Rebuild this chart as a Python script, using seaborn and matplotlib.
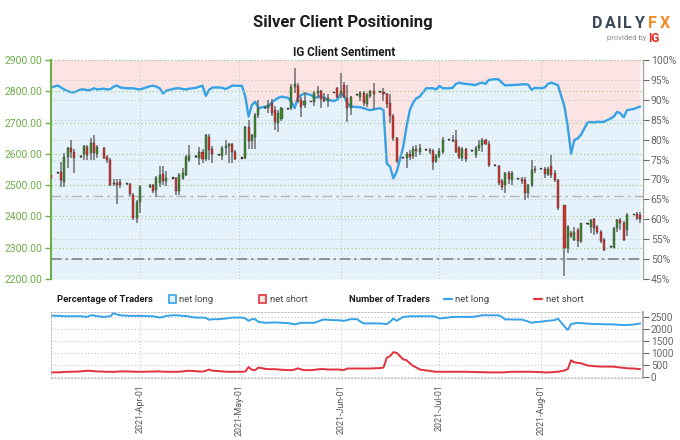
import matplotlib
matplotlib.use("Agg")
import matplotlib.pyplot as plt
import matplotlib.dates as mdates
from matplotlib.patches import Rectangle
from matplotlib.lines import Line2D
import numpy as np
import pandas as pd
import seaborn as sns

sns.set_theme(style="white")
plt.rcParams["font.family"] = ["Roboto", "DejaVu Sans"]

# ---------------- data ----------------
# daily candles (IG shows a short Sunday session, no Saturdays, no Good Friday)
all_days = pd.date_range("2021-03-05", "2021-08-31", freq="D")
dates = all_days[(all_days.dayofweek != 5) & (all_days != pd.Timestamp("2021-04-02"))]

opens = [2533,
         2540, 2543, 2511, 2591, 2618, 2607,
         2590, 2600, 2621, 2602, 2634, 2600,
         2618, 2591, 2580, 2503, 2508, 2510,
         2505, 2503, 2469, 2394, 2447,
         2495, 2501, 2485, 2506, 2535, 2514,
         2522, 2522, 2480, 2522, 2533, 2580,
         2593, 2586, 2607, 2582, 2655, 2614,
         2598, 2592, 2620, 2625, 2630, 2605,
         2585, 2587, 2685, 2640, 2655, 2725,
         2745, 2748, 2762, 2740, 2700, 2710,
         2743, 2745, 2815, 2818, 2772, 2755,
         2768, 2767, 2793, 2800, 2778, 2770,
         2795, 2810, 2790, 2820, 2778, 2745,
         2790, 2783, 2795, 2760, 2785, 2800,
         2797, 2797, 2790, 2762, 2722, 2650,
         2586, 2588, 2600, 2592, 2615, 2605,
         2615, 2612, 2610, 2578, 2592, 2605,
         2645, 2645, 2645, 2618, 2588, 2615,
         2610, 2595, 2620, 2628, 2645, 2632,
         2565, 2560, 2512, 2500, 2540, 2515,
         2522, 2520, 2517, 2474, 2500, 2553,
         2550, 2552, 2535, 2560, 2538, 2517,
         2437, 2298, 2346, 2325, 2357, 2320,
         2376, 2367, 2391, 2367, 2351, 2325,
         2302, 2298, 2362, 2389, 2378, 2357,
         2405, 2408, 2405]
highs = [2545,
         2542, 2575, 2602, 2623, 2645, 2617,
         2595, 2628, 2628, 2650, 2660, 2628,
         2621, 2596, 2586, 2520, 2520, 2520,
         2507, 2508, 2474, 2453, 2500,
         2503, 2505, 2530, 2560, 2560, 2545,
         2525, 2527, 2538, 2555, 2596, 2628,
         2595, 2623, 2615, 2663, 2665, 2625,
         2600, 2625, 2645, 2634, 2634, 2612,
         2590, 2690, 2708, 2665, 2730, 2772,
         2750, 2772, 2775, 2752, 2740, 2750,
         2747, 2822, 2873, 2828, 2783, 2798,
         2770, 2800, 2818, 2805, 2795, 2790,
         2797, 2815, 2857, 2830, 2820, 2785,
         2792, 2800, 2800, 2795, 2805, 2825,
         2799, 2812, 2795, 2790, 2728, 2655,
         2590, 2605, 2612, 2625, 2628, 2630,
         2617, 2618, 2615, 2600, 2620, 2655,
         2647, 2660, 2676, 2625, 2622, 2620,
         2612, 2625, 2645, 2650, 2648, 2640,
         2567, 2565, 2520, 2543, 2545, 2545,
         2524, 2525, 2527, 2505, 2580, 2560,
         2552, 2559, 2558, 2596, 2548, 2520,
         2437, 2373, 2355, 2367, 2362, 2380,
         2378, 2391, 2394, 2372, 2357, 2330,
         2304, 2367, 2391, 2394, 2385, 2410,
         2407, 2415, 2415]
lows = [2478,
        2535, 2495, 2495, 2554, 2586, 2538,
        2586, 2580, 2580, 2580, 2580, 2586,
        2583, 2570, 2497, 2498, 2440, 2490,
        2500, 2465, 2389, 2378, 2410,
        2492, 2475, 2462, 2495, 2500, 2498,
        2519, 2469, 2469, 2517, 2530, 2575,
        2588, 2565, 2570, 2578, 2580, 2570,
        2594, 2581, 2597, 2570, 2572, 2580,
        2582, 2585, 2615, 2615, 2615, 2715,
        2742, 2730, 2720, 2676, 2671, 2705,
        2741, 2740, 2795, 2762, 2719, 2745,
        2765, 2752, 2780, 2745, 2765, 2750,
        2793, 2780, 2780, 2780, 2703, 2724,
        2786, 2770, 2752, 2750, 2780, 2740,
        2795, 2770, 2745, 2700, 2640, 2572,
        2583, 2555, 2580, 2585, 2590, 2595,
        2610, 2600, 2548, 2570, 2588, 2598,
        2642, 2638, 2602, 2582, 2578, 2575,
        2607, 2588, 2610, 2605, 2628, 2558,
        2560, 2500, 2484, 2474, 2505, 2500,
        2518, 2505, 2452, 2460, 2495, 2538,
        2548, 2522, 2528, 2522, 2510, 2420,
        2208, 2282, 2330, 2320, 2303, 2314,
        2374, 2346, 2341, 2345, 2314, 2288,
        2300, 2298, 2351, 2357, 2320, 2336,
        2403, 2389, 2378]
closes = [2522,
          2538, 2517, 2591, 2618, 2607, 2586,
          2592, 2625, 2597, 2636, 2602, 2621,
          2586, 2580, 2501, 2506, 2502, 2502,
          2503, 2472, 2394, 2447, 2495,
          2500, 2480, 2522, 2533, 2514, 2524,
          2521, 2480, 2533, 2538, 2591, 2593,
          2591, 2607, 2582, 2660, 2612, 2598,
          2596, 2620, 2625, 2630, 2605, 2583,
          2587, 2685, 2640, 2660, 2725, 2745,
          2748, 2755, 2730, 2703, 2730, 2745,
          2745, 2815, 2822, 2768, 2751, 2770,
          2767, 2795, 2800, 2775, 2770, 2778,
          2797, 2783, 2800, 2783, 2745, 2783,
          2788, 2795, 2762, 2788, 2800, 2790,
          2797, 2790, 2760, 2722, 2650, 2578,
          2588, 2600, 2590, 2615, 2608, 2620,
          2612, 2608, 2575, 2592, 2610, 2645,
          2644, 2642, 2607, 2590, 2615, 2585,
          2609, 2620, 2628, 2645, 2632, 2565,
          2562, 2506, 2495, 2538, 2520, 2540,
          2520, 2512, 2474, 2500, 2548, 2548,
          2551, 2535, 2550, 2533, 2517, 2426,
          2298, 2367, 2336, 2351, 2320, 2378,
          2376, 2389, 2362, 2351, 2320, 2293,
          2301, 2362, 2389, 2378, 2325, 2405,
          2405, 2394, 2391]
# % of clients net long (right axis)
pct_long = [93.1,
            93.6, 93.1, 92.6, 92.2, 91.9, 91.9,
            92.6, 92.6, 92.4, 92.5, 92.9, 92.6,
            92.8, 92.6, 92.7, 93.3, 93.6, 93.1,
            92.9, 92.9, 92.9, 92.7, 92.6,
            93.4, 93.55, 93.3, 92.9, 91.6, 92.3,
            92.7, 92.9, 92.9, 92.7, 92.6, 92.8,
            93.0, 93.3, 93.55, 91.0, 92.5, 93.1,
            93.1, 93.0, 92.7, 93.1, 93.55, 93.55,
            93.5, 90.8, 85.8, 88.7, 89.5, 87.9,
            88.3, 88.3, 89.3, 89.95, 90.5, 90.8,
            90.5, 89.5, 87.9, 90.6, 91.2, 91.6,
            91.2, 90.6, 90.6, 91.0, 90.6, 89.95,
            89.7, 90.1, 91.5, 91.0, 89.1, 88.3,
            88.2, 88.1, 87.9, 87.6, 87.4, 87.6,
            87.9, 87.4, 74.0, 73.2, 70.3, 71.9,
            78.2, 83.25, 87.4, 89.3, 90.4, 90.8,
            92.9, 92.9, 92.9, 92.6, 93.5, 92.9,
            92.9, 93.0, 94.0, 94.3, 94.1, 94.0,
            93.8, 93.7, 94.1, 94.3, 94.0, 95.0,
            95.2, 95.1, 94.3, 93.6, 93.7, 93.7,
            93.8, 93.9, 93.9, 93.8, 92.5, 93.0,
            92.9, 93.1, 94.0, 94.3, 94.0, 93.7,
            88.3, 83.25, 76.5, 79.9, 80.3, 81.2,
            84.3, 84.4, 84.3, 84.5, 84.4, 84.5,
            85.3, 85.8, 87.0, 86.6, 85.6, 87.4,
            87.7, 88.0, 88.3]
# number of traders
n_long = [2555,
          2545, 2540, 2527, 2527, 2530, 2527,
          2527, 2510, 2500, 2568, 2560, 2530,
          2500, 2515, 2527, 2664, 2600, 2568,
          2550, 2541, 2541, 2541, 2545,
          2527, 2527, 2500, 2472, 2500, 2541,
          2568, 2568, 2560, 2541, 2541, 2510,
          2472, 2472, 2472, 2460, 2380, 2404,
          2404, 2420, 2431, 2450, 2472, 2472,
          2472, 2440, 2336, 2404, 2404, 2290,
          2254, 2260, 2268, 2268, 2260, 2254,
          2240, 2220, 2186, 2220, 2254, 2254,
          2254, 2254, 2300, 2360, 2390, 2380,
          2363, 2363, 2350, 2336, 2370, 2404,
          2404, 2300, 2227, 2227, 2227, 2227,
          2227, 2210, 2199, 2300, 2431, 2336,
          2500, 2510, 2527, 2527, 2527, 2527,
          2527, 2527, 2527, 2500, 2431, 2450,
          2480, 2500, 2500, 2500, 2500, 2500,
          2500, 2520, 2540, 2568, 2568, 2568,
          2568, 2568, 2500, 2390, 2400, 2390,
          2390, 2390, 2350, 2300, 2254, 2280,
          2300, 2322, 2340, 2350, 2363, 2431,
          2100, 1953, 2199, 2230, 2254, 2240,
          2220, 2210, 2199, 2199, 2200, 2190,
          2186, 2186, 2175, 2165, 2158, 2160,
          2180, 2200, 2227]
n_short = [178,
           180, 185, 200, 205, 205, 210,
           220, 240, 246, 246, 230, 220,
           210, 205, 205, 200, 210, 220,
           220, 215, 210, 205, 205,
           210, 215, 220, 220, 210, 205,
           205, 205, 210, 220, 240, 246,
           230, 220, 210, 246, 300, 250,
           230, 220, 210, 205, 205, 205,
           205, 220, 400, 290, 273, 382,
           330, 314, 314, 314, 300, 290,
           273, 273, 300, 350, 300, 273,
           273, 290, 310, 320, 314, 300,
           300, 300, 290, 280, 342, 342,
           342, 342, 342, 342, 342, 350,
           360, 380, 792, 861, 1025, 997,
           724, 690, 560, 451, 382, 300,
           260, 246, 220, 205, 205, 205,
           205, 205, 205, 205, 205, 205,
           200, 195, 190, 190, 185, 180,
           178, 178, 178, 185, 195, 205,
           205, 205, 205, 205, 205, 200,
           190, 178, 178, 185, 200, 205,
           260, 320, 683, 600, 580, 560,
           470, 451, 440, 430, 423, 423,
           423, 420, 400, 382, 370, 350,
           342, 330, 314]

price_ticks = [2200, 2300, 2400, 2500, 2600, 2700, 2800, 2900]
pct_ticks = [45, 50, 55, 60, 65, 70, 75, 80, 85, 90, 95, 100]
count_ticks = [0, 500, 1000, 1500, 2000, 2500]

df = pd.DataFrame(dict(date=dates, open=opens, high=highs, low=lows, close=closes,
                       pct=pct_long, nlong=n_long, nshort=n_short))

# ---------------- styling ----------------
GREEN_AX = "#6fae47"
GRID_G = "#a8d08a"
GRID_S = "#c9c9c9"
PINK = "#fce4e4"
LBLUE = "#e5f2fb"
LINE_B = "#36a2e6"
LINE_R = "#e0313c"
C_UP = "#3c8c2c"
C_DN = "#d8302a"
TXT_G = "#666666"

W, H = 680.0, 440.0
fig = plt.figure(figsize=(6.8, 4.4), dpi=100)
fig.patch.set_facecolor("white")


def fx(px):
    return px / W


def fy(py):
    return 1 - py / H


L, R = 51.0, 642.5
ax = fig.add_axes([fx(L), fy(279), (R - L) / W, (279 - 60) / H])
axp = ax.twinx()
ax2 = fig.add_axes([fx(L), fy(378), (R - L) / W, (378 - 312) / H])

xmin = mdates.date2num(pd.Timestamp("2021-03-04 23:00"))
xmax = mdates.date2num(pd.Timestamp("2021-08-31 17:00"))

# ---- sentiment (base axes, right scale) ----
ax.fill_between(df["date"], df["pct"], 100, color=PINK, lw=0, zorder=0.2)
ax.fill_between(df["date"], 45, df["pct"], color=LBLUE, lw=0, zorder=0.2)
sns.lineplot(x=df["date"], y=df["pct"], ax=ax, color=LINE_B, lw=1.7, zorder=2)
ax.axhline(50, color="#7a7a7a", lw=1.1, ls=(0, (7, 2.5, 1.5, 2.5)), zorder=1.8)
ax.axhline(65.8, color="#b4b4b4", lw=1.0, ls=(0, (7, 3, 2, 3)), zorder=1.8)
ax.set_ylim(45, 100)
ax.set_yticks(pct_ticks)
ax.set_yticklabels([f"{t}%" for t in pct_ticks])
ax.yaxis.tick_right()
ax.tick_params(axis="y", colors=TXT_G, labelsize=7.5, length=4, width=0.8, pad=2)
ax.set_axisbelow(True)
ax.grid(axis="y", color=GRID_S, ls=(0, (1, 2)), lw=0.8)
ax.xaxis.set_major_locator(mdates.MonthLocator(bymonthday=1))
ax.grid(axis="x", color=GRID_S, ls=(0, (1, 2)), lw=0.8)
ax.tick_params(axis="x", length=0, labelbottom=False)
ax.set_xlabel("")
ax.set_ylabel("")
for s in ["top", "bottom", "left"]:
    ax.spines[s].set_visible(False)
ax.spines["right"].set_color("#a8a8a8")
ax.spines["right"].set_linewidth(1.0)

# ---- candles (twin axes, left scale) ----
up = df["close"] >= df["open"]
small = (df["close"] - df["open"]).abs() < 4
body_lo = np.minimum(df["open"], df["close"])
body_h = np.maximum((df["close"] - df["open"]).abs(), 3.5)
cols = np.where(small, "#404040", np.where(up, C_UP, C_DN))
axp.vlines(df["date"], df["low"], df["high"], color="#6e6e6e", lw=1.1, zorder=2)
axp.bar(df["date"], body_h, bottom=body_lo, width=0.62, color=cols,
        edgecolor="#3a3a3a", linewidth=0.3, zorder=3)
axp.set_ylim(2200, 2900)
axp.set_yticks(price_ticks)
axp.set_yticklabels([f"{t:.2f}" for t in price_ticks])
axp.yaxis.tick_left()
axp.tick_params(axis="y", colors=GREEN_AX, labelsize=7.5, length=4, width=1.0, pad=2)
axp.set_axisbelow(True)
axp.grid(axis="y", color=GRID_G, ls=(0, (1, 2)), lw=0.9)
for s in ["top", "bottom", "right"]:
    axp.spines[s].set_visible(False)
axp.spines["left"].set_color(GREEN_AX)
axp.spines["left"].set_linewidth(1.5)
axp.set_ylabel("")

# ---- number of traders ----
sns.lineplot(x=df["date"], y=df["nlong"], ax=ax2, color=LINE_B, lw=1.4)
sns.lineplot(x=df["date"], y=df["nshort"], ax=ax2, color=LINE_R, lw=1.4)
ax2.set_ylim(-55, 2705)
ax2.set_yticks(count_ticks)
ax2.yaxis.tick_right()
ax2.tick_params(axis="y", colors=TXT_G, labelsize=7.2, length=4, width=0.8, pad=2)
ax2.xaxis.set_major_locator(mdates.MonthLocator(bymonthday=1))
ax2.xaxis.set_major_formatter(mdates.DateFormatter("%Y-%b-%d"))
ax2.tick_params(axis="x", colors="#555555", labelsize=6.4, length=3, width=0.8,
                labelrotation=90, pad=1.5)
ax2.grid(axis="both", color=GRID_S, ls=(0, (1, 2)), lw=0.8)
ax2.set_xlabel("")
ax2.set_ylabel("")
for s in ["top", "bottom", "left"]:
    ax2.spines[s].set_linestyle((0, (1, 2)))
    ax2.spines[s].set_color("#bdbdbd")
    ax2.spines[s].set_linewidth(0.8)
ax2.spines["right"].set_color("#a8a8a8")

for a in (ax, axp, ax2):
    a.set_xlim(xmin, xmax)

# ---------------- texts ----------------
fig.text(fx(343), fy(22), "Silver Client Positioning", ha="center", va="center",
         fontsize=12, fontweight="bold", color="#1c1c1c")
fig.text(fx(344), fy(52), "IG Client Sentiment", ha="center", va="center",
         fontsize=8.5, fontweight="bold", color="#1c1c1c")

# DailyFX logo
logo = [("D", 592, "#3b4859"), ("A", 604.5, "#3b4859"), ("I", 617, "#3b4859"),
        ("L", 623.5, "#3b4859"), ("Y", 634.5, "#3b4859"),
        ("F", 648, "#f28c28"), ("X", 659.5, "#f28c28")]
for ch, px, c in logo:
    fig.text(fx(px), fy(23), ch, ha="left", va="center", fontsize=11.5,
             fontweight="bold", color=c)
fig.text(fx(646), fy(38), "provided by", ha="right", va="center", fontsize=5.5,
         color="#8a8a8a")
fig.text(fx(648), fy(38), "IG", ha="left", va="center", fontsize=8.5,
         fontweight="bold", color="#e2231a")

# legend row
ly = fy(299)
fig.text(fx(57), ly, "Percentage of Traders", ha="left", va="center",
         fontsize=6.8, fontweight="bold", color="#1c1c1c")
fig.add_artist(Rectangle((fx(169), fy(303)), 7 / W, 8 / H, transform=fig.transFigure,
                         facecolor=LBLUE, edgecolor=LINE_B, lw=1.2))
fig.text(fx(179), ly, "net long", ha="left", va="center", fontsize=6.8, color="#444444")
fig.add_artist(Rectangle((fx(259), fy(303)), 7 / W, 8 / H, transform=fig.transFigure,
                         facecolor=PINK, edgecolor=LINE_R, lw=1.2))
fig.text(fx(270), ly, "net short", ha="left", va="center", fontsize=6.8, color="#444444")
fig.text(fx(349), ly, "Number of Traders", ha="left", va="center",
         fontsize=6.8, fontweight="bold", color="#1c1c1c")
fig.add_artist(Line2D([fx(443.5), fx(452)], [ly, ly], transform=fig.transFigure,
                      color=LINE_B, lw=1.6))
fig.text(fx(455), ly, "net long", ha="left", va="center", fontsize=6.8, color="#444444")
fig.add_artist(Line2D([fx(534), fx(541.5)], [ly, ly], transform=fig.transFigure,
                      color=LINE_R, lw=1.6))
fig.text(fx(545.5), ly, "net short", ha="left", va="center", fontsize=6.8, color="#444444")

fig.savefig("out.png", dpi=100)
